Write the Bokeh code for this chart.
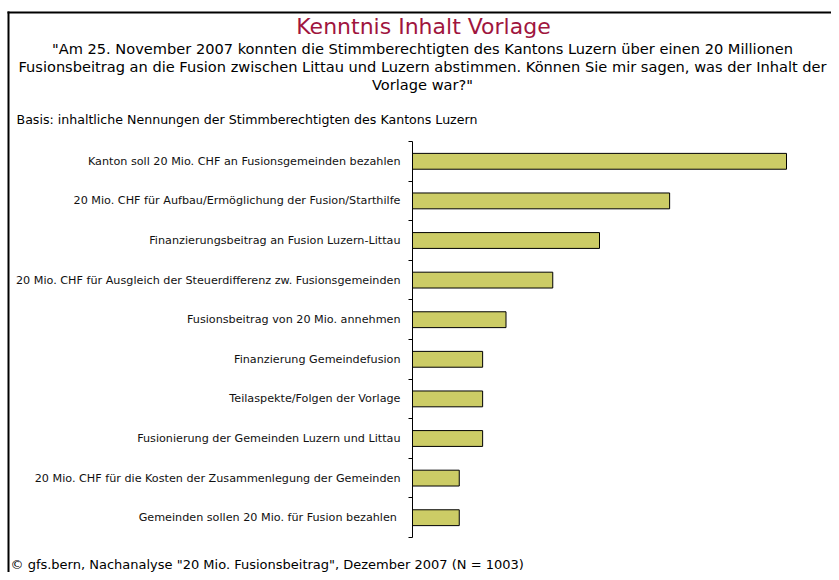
from bokeh.plotting import figure
from bokeh.models import Range1d, FixedTicker, Label, BoxAnnotation
from bokeh.embed import file_html
from bokeh.resources import INLINE

categories = [
    "Kanton soll 20 Mio. CHF an Fusionsgemeinden bezahlen",
    "20 Mio. CHF für Aufbau/Ermöglichung der Fusion/Starthilfe",
    "Finanzierungsbeitrag an Fusion Luzern-Littau",
    "20 Mio. CHF für Ausgleich der Steuerdifferenz zw. Fusionsgemeinden",
    "Fusionsbeitrag von 20 Mio. annehmen",
    "Finanzierung Gemeindefusion",
    "Teilaspekte/Folgen der Vorlage",
    "Fusionierung der Gemeinden Luzern und Littau",
    "20 Mio. CHF für die Kosten der Zusammenlegung der Gemeinden",
    "Gemeinden sollen 20  Mio. für Fusion bezahlen",
]
values = [16, 11, 8, 6, 4, 3, 3, 3, 2, 2]

title_text = "Kenntnis Inhalt Vorlage"
subtitle_lines = [
    "\"Am 25. November 2007 konnten die Stimmberechtigten des Kantons Luzern über einen 20 Millionen",
    "Fusionsbeitrag an die Fusion zwischen Littau und Luzern abstimmen. Können Sie mir sagen, was der Inhalt der",
    "Vorlage war?\"",
]
basis_text = "Basis: inhaltliche Nennungen der Stimmberechtigten des Kantons Luzern"
footer_text = "© gfs.bern, Nachanalyse \"20 Mio. Fusionsbeitrag\", Dezember 2007 (N = 1003)"

n = len(categories)
centers = [i + 0.5 for i in range(n)]
boundaries = [float(i) for i in range(n + 1)]

FONT = "DejaVu Sans"
W, H = 831, 572
AXIS_X = 412                 # pixel column of value 0
BAND_T, BAND_B = 141, 537    # pixel rows of the category band
PX = 23.375                  # px per percent
PY = (BAND_B - BAND_T) / n   # px per category

p = figure(
    width=W, height=H,
    x_range=Range1d(-AXIS_X / PX, (W - AXIS_X) / PX),
    y_range=Range1d(n + (H - BAND_B) / PY, -BAND_T / PY),
    output_backend="svg", toolbar_location=None,
    min_border=0,
)
p.outline_line_color = None
p.xgrid.visible = False
p.ygrid.visible = False
p.xaxis.visible = False

p.hbar(y=centers, right=values, left=0, height=0.4,
       fill_color="#CCCC66", line_color="black", line_width=1)

ax = p.yaxis[0]
ax.fixed_location = 0
ax.bounds = (0, n)
ax.ticker = FixedTicker(ticks=centers, minor_ticks=boundaries)
ax.major_label_overrides = {c: t for c, t in zip(centers, categories)}
ax.major_tick_in = 0
ax.major_tick_out = 0
ax.minor_tick_in = 0
ax.minor_tick_out = 4
ax.minor_tick_line_color = "black"
ax.axis_line_color = "black"
ax.major_label_standoff = 8
ax.major_label_text_font = FONT
ax.major_label_text_font_size = "11.2px"
ax.major_label_text_color = "#111111"

# outer frame of the slide: only its left and top edges are inside the picture
def edge(left, right, top, bottom):
    p.add_layout(BoxAnnotation(left=left, right=right, top=H - top, bottom=H - bottom,
                               left_units="screen", right_units="screen",
                               top_units="screen", bottom_units="screen",
                               fill_color="black", fill_alpha=1,
                               line_color=None, line_alpha=0))

edge(7, 9, 11, H + 50)      # left edge
edge(7, W + 50, 11, 13)     # top edge

def text(t, px, py, size, color="#000000", align="center"):
    p.add_layout(Label(x=px, y=H - py, x_units="screen", y_units="screen",
                       text=t, text_font=FONT, text_font_size=size,
                       text_color=color, text_align=align, text_baseline="middle"))

text(title_text, 423, 26, "22px", color="#A0153E")
for i, line in enumerate(subtitle_lines):
    text(line, 422, 48 + 18 * i, "14.6px")
text(basis_text, 16, 119, "12.6px", align="left")
text(footer_text, 10, 564, "13px", align="left")

open("out.html", "w").write(file_html(p, INLINE))
